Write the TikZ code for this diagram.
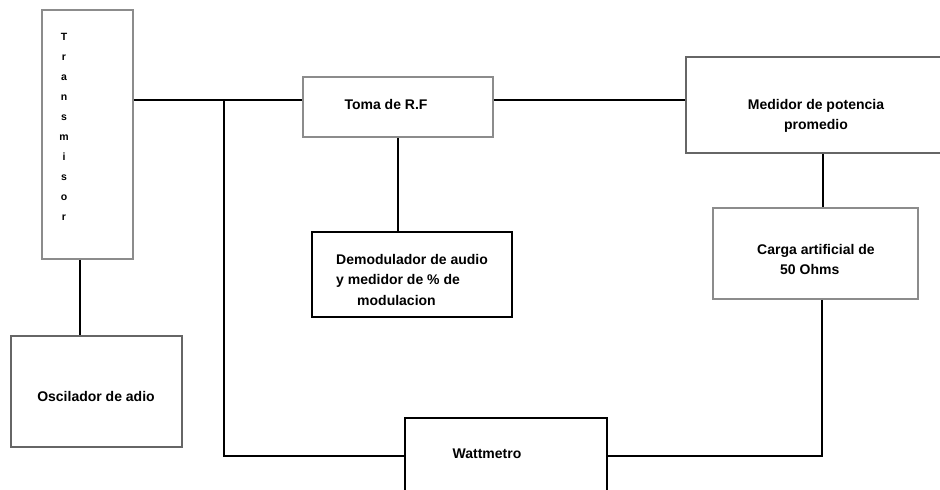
\documentclass[tikz,border=0pt]{standalone}
\usepackage{fontspec}
\setmainfont{Liberation Sans}
\begin{document}
\begin{tikzpicture}[x=1pt,y=-1pt,
  blk/.style={draw=#1,line width=1.5pt,fill=white,inner sep=0pt,anchor=center},
  blk/.default={black!45},
  lbl/.style={font=\bfseries\fontsize{14}{20.5}\selectfont,inner sep=0pt,align=left},
  wire/.style={line width=1.6pt,black}]
\useasboundingbox (0,0) rectangle (940,490);
\clip (0,0) rectangle (940,490);
% blocks
\node[blk,minimum width=91pt,minimum height=249pt] (trans) at (87.5,134.5) {};
\node[blk,minimum width=190pt,minimum height=60pt] (toma) at (398,107) {};
\node[blk=black!60,minimum width=260pt,minimum height=96pt] (med) at (816,105) {};
\node[blk,minimum width=205pt,minimum height=91pt] (carga) at (815.5,253.5) {};
\node[blk=black,minimum width=200pt,minimum height=85pt] (demod) at (412,274.5) {};
\node[blk=black!60,minimum width=171pt,minimum height=111pt] (osc) at (96.5,391.5) {};
\node[blk=black,minimum width=202pt,minimum height=82pt] (watt) at (506,459) {};
% labels
\node[lbl,font=\bfseries\fontsize{10.5}{20}\selectfont,align=center] (trans-t) at (64,127)
  {T\\r\\a\\n\\s\\m\\i\\s\\o\\r};
\node[lbl] (toma-t) at (386,104) {Toma de R.F};
\node[lbl,align=center] (med-t) at (816,116) {Medidor de potencia\\promedio};
\node[lbl,align=left,anchor=west] (carga-t) at (757,259.5) {Carga artificial de\\\hspace*{23pt}50 Ohms};
\node[lbl,align=left,anchor=west] (demod-t) at (336,279.5) {Demodulador de audio\\y medidor de \% de\\\hspace*{21pt}modulacion};
\node[lbl] (osc-t) at (96,396) {Oscilador de adio};
\node[lbl] (watt-t) at (487,454) {Wattmetro};
% connectors
\coordinate (j) at (224,100);
\coordinate (jb) at (224,456);
\coordinate (cb) at (822,456);
\draw[wire,line width=1.4pt] (trans.east |- j) -- (j) -- (toma.west |- j);
\draw[wire,line width=1.4pt] (toma.east |- j) -- (med.west |- j);
\draw[wire] (toma.south) -- (toma.south |- demod.north);
\draw[wire] (trans.south -| 80,0) -- (osc.north -| 80,0);
\draw[wire] (med.south -| 823,0) -- (carga.north -| 823,0);
\draw[wire,line width=2.2pt] (j) -- (jb) -- (watt.west |- jb);
\draw[wire] (carga.south -| cb) -- (cb) -- (watt.east |- cb);
\end{tikzpicture}
\end{document}
